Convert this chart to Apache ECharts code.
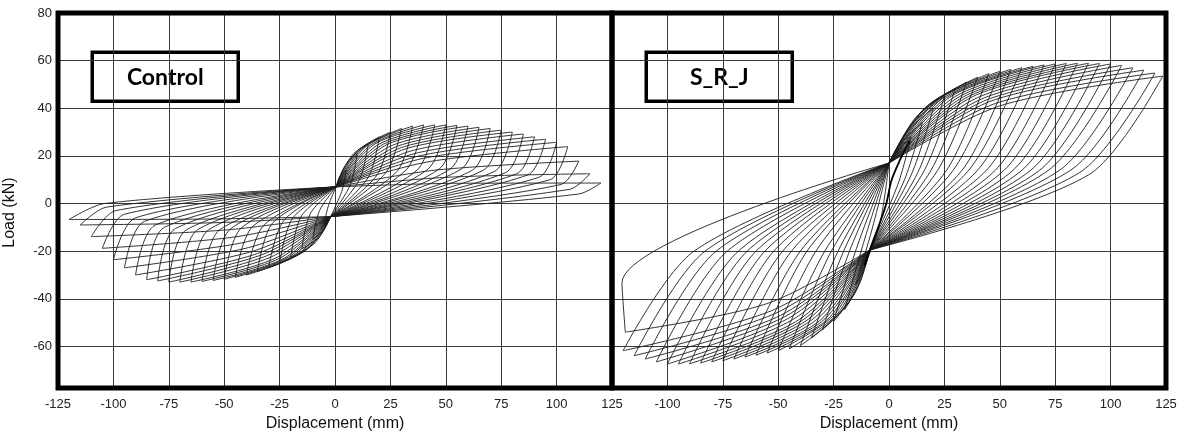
<!DOCTYPE html>
<html>
<head>
<meta charset="utf-8">
<script src="https://cdn.jsdelivr.net/npm/echarts@6/dist/echarts.min.js"></script>
<style>
html,body{margin:0;padding:0;background:#fff;}
#chart{width:1186px;height:437px;}
</style>
</head>
<body>
<div id="chart"></div>
<script>
// ---------------- axis ticks ----------------
const xTicks = [-125, -100, -75, -50, -25, 0, 25, 50, 75, 100, 125];
const yTicks = [-60, -40, -20, 0, 20, 40, 60, 80];

// ---------------- Control specimen ----------------
// positive half-cycles: peak, loading knee, unloading bend
const ctrlPosPeakD = [5,10,15,20,25,30,35,40,45,50,55,60,65,70,75,80,85,90,95,100,105,110,115,120];
const ctrlPosPeakF = [14,21,25,28,30,31.5,32.5,33,33,33,32.8,32.5,32,31.5,30.8,30,29.2,28,27,25.7,23.9,17.8,12.5,8.6];
const ctrlPosKneeD = [2,4,6,8,10,12,14,16,18,20,22,24,26,28,30,32,34,36,38,40,42,45,50,55];
const ctrlPosKneeF = [11,15,18,20.5,22,23,24,24.5,25,25,25,25,24.5,24,23.5,23,22,21,20,19,17.5,14,11,8.5];
const ctrlPosBendD = [3,7,11,15,19,23,28,32,37,42,47,52,57,62,67,72,77,82,87,92,97,102,106,110];
const ctrlPosBendF = [5,8,10,11,12,13,13.5,14,14,14.5,14.5,14.5,14.5,14,14,13.5,13,12.5,12,11,10,8,6,4];
// negative half-cycles
const ctrlNegPeakD = [-5,-10,-15,-20,-25,-30,-35,-40,-45,-50,-55,-60,-65,-70,-75,-80,-85,-90,-95,-100,-105,-110,-115,-120];
const ctrlNegPeakF = [-9,-15,-19,-22.5,-25,-27,-28.5,-30,-31,-31.8,-32.3,-32.7,-33,-33,-33,-32.5,-32,-30,-27,-23.6,-18.8,-13.9,-9,-6.7];
const ctrlNegKneeD = [-3,-5,-7,-9,-11,-13,-15,-17,-19,-21,-23,-25,-27,-29,-31,-33,-35,-37,-39,-42,-45,-48,-52,-56];
const ctrlNegKneeF = [-7.5,-11,-14,-16.5,-18,-19.5,-20.5,-21.5,-22,-22.5,-23,-23,-23,-22.5,-22,-21.5,-21,-20,-18.5,-16.5,-14,-11,-8,-6.5];
const ctrlNegBendD = [-3,-7,-11,-15,-19,-23,-28,-32,-37,-42,-47,-52,-57,-62,-67,-72,-77,-81,-86,-90,-95,-99,-103,-104];
const ctrlNegBendF = [-1,-3,-4,-5,-6,-7,-8,-9,-9.5,-10,-10.5,-11,-11,-11,-11,-10.5,-10,-9,-7.5,-6,-4.5,-3,-1.5,0];
// pinching points where the branches meet
const ctrlUpperKnot = [0.5, 7];
const ctrlLowerKnot = [-2, -5.5];

// ---------------- S_R_J specimen ----------------
const srjPosPeakD = [10,15,20,25,30,35,40,45,50,55,60,65,70,75,80,85,90,95,100,105,110,115,120,123.5];
const srjPosPeakF = [28,34,40,45,48.5,51,53,54.5,55.5,56.3,57,57.6,58.2,58.6,58.8,58.9,58.9,58.8,58.6,58,57,56,54.8,53.5];
const srjPosKneeD = [4,6,8,10,12,14,16,18,20,22,24,26,28,30,32,34,36,38,40,42,44,46,48,50];
const srjPosKneeF = [22,26,30,33,36,38,40,41.5,42.5,43.5,44,44.5,45,45,45,45,45,45,44.5,44,43.5,43,42,41];
const srjPosBendD = [4,7,10,13,16,19,22,26,29,33,36,40,44,48,52,56,60,64,68,72,77,82,86,90];
const srjPosBendF = [8,10,12,13,14,14,14,14,14,14,14,14,14,14,14,14,14,14,14,14,14,14,13,12];
const srjNegPeakD = [-10,-15,-20,-25,-30,-35,-40,-45,-50,-55,-60,-65,-70,-75,-80,-85,-90,-95,-100,-105,-110,-115,-120,-119];
const srjNegPeakF = [-24,-34,-44.5,-49.5,-53,-56.5,-59.7,-61,-61.8,-62.8,-63.7,-64.5,-65.3,-66,-66.5,-67,-67.3,-67.4,-67.4,-66.5,-65.3,-63.9,-61.8,-54];
const srjNegKneeD = [-9.5,-11,-13,-15,-17,-19,-21,-23,-25,-27,-29,-31,-33,-35,-37,-39,-41,-43,-45,-47,-49,-51,-53,-55];
const srjNegKneeF = [-22,-27,-33,-37,-40,-42.5,-44.5,-46,-47,-48,-48.5,-49,-49,-49,-49,-49,-49,-48.5,-48,-47.5,-47,-46,-45,-42];
const srjNegBendD = [-4,-8,-11,-14,-17,-20,-23,-26,-29,-33,-37,-40,-44,-48,-52,-56,-60,-64,-68,-73,-78,-83,-88,-120.5];
const srjNegBendF = [-8,-12,-15,-17,-18,-19,-20,-20,-20,-20,-20,-20,-20,-20,-20,-20,-20,-20,-20,-20,-20,-20,-20,-33.3];
const srjUpperKnot = [0, 17];
const srjLowerKnot = [-8.7, -19.5];
// dark central S-shaped path of the small elastic cycles
const srjBackboneD = [-11, -8.7, -4.2, -1.2, 1.1, 4.8, 9.3];
const srjBackboneF = [-26, -19.5, -8.3, 0, 9.7, 18, 26.4];

// ---------------- build line data (branches separated by gaps) ----------------
const GAP = [null, null];
function buildLoops(s) {
  const out = [];
  for (let i = 0; i < s.posPeakD.length; i++) {
    const pPeak = [s.posPeakD[i], s.posPeakF[i]];
    const nPeak = [s.negPeakD[i], s.negPeakF[i]];
    out.push(s.up, [s.posKneeD[i], s.posKneeF[i]], pPeak, GAP);
    out.push(pPeak, [s.posBendD[i], s.posBendF[i]], s.low, GAP);
    out.push(s.low, [s.negKneeD[i], s.negKneeF[i]], nPeak, GAP);
    out.push(nPeak, [s.negBendD[i], s.negBendF[i]], s.up, GAP);
  }
  return out;
}
const ctrlData = buildLoops({
  posPeakD: ctrlPosPeakD, posPeakF: ctrlPosPeakF, posKneeD: ctrlPosKneeD, posKneeF: ctrlPosKneeF,
  posBendD: ctrlPosBendD, posBendF: ctrlPosBendF, negPeakD: ctrlNegPeakD, negPeakF: ctrlNegPeakF,
  negKneeD: ctrlNegKneeD, negKneeF: ctrlNegKneeF, negBendD: ctrlNegBendD, negBendF: ctrlNegBendF,
  up: ctrlUpperKnot, low: ctrlLowerKnot
});
const srjData = buildLoops({
  posPeakD: srjPosPeakD, posPeakF: srjPosPeakF, posKneeD: srjPosKneeD, posKneeF: srjPosKneeF,
  posBendD: srjPosBendD, posBendF: srjPosBendF, negPeakD: srjNegPeakD, negPeakF: srjNegPeakF,
  negKneeD: srjNegKneeD, negKneeF: srjNegKneeF, negBendD: srjNegBendD, negBendF: srjNegBendF,
  up: srjUpperKnot, low: srjLowerKnot
});
const srjBackbone = srjBackboneD.map((d, i) => [d, srjBackboneF[i]]);

// ---------------- chart ----------------
const chart = echarts.init(document.getElementById('chart'), null, { renderer: 'canvas' });
const FONT = '"Liberation Sans", Arial, sans-serif';
const gridLine = { show: true, lineStyle: { color: '#3a3a3a', width: 1 } };

function xAxisFor(idx, showMin) {
  return {
    type: 'value', gridIndex: idx, min: -125, max: 125, interval: 25,
    name: 'Displacement (mm)', nameLocation: 'middle', nameGap: 27,
    nameTextStyle: { fontFamily: FONT, fontSize: 16, color: '#111' },
    axisLine: { show: false }, axisTick: { show: false },
    axisLabel: { fontFamily: FONT, fontSize: 13, color: '#222', margin: 10, showMinLabel: showMin },
    splitLine: gridLine
  };
}
function yAxisFor(idx, showLabels) {
  return {
    type: 'value', gridIndex: idx, min: -77.5, max: 80,
    name: showLabels ? 'Load (kN)' : '', nameLocation: 'middle', nameGap: 40,
    nameTextStyle: { fontFamily: FONT, fontSize: 16, color: '#111', padding: [0, 24, 0, 0] },
    axisLine: { show: false },
    axisTick: { show: false, customValues: yTicks },
    axisLabel: { show: showLabels, customValues: yTicks, fontFamily: FONT, fontSize: 13, color: '#222', margin: 6 },
    splitLine: gridLine
  };
}
const lineBase = {
  type: 'line', showSymbol: false, symbol: 'none', smooth: 0.3, connectNulls: false,
  animation: false, lineStyle: { color: '#1c1c1c', width: 0.9 }, z: 3
};

function labelBox(x, text) {
  return {
    type: 'group', left: x, top: 50.5, z: 100,
    children: [
      { type: 'rect', shape: { x: 0, y: 0, width: 146, height: 49 },
        style: { fill: '#fff', stroke: '#000', lineWidth: 3.5 } },
      { type: 'text', x: 73, y: 25.5,
        style: { text: text, fontFamily: 'Lato, "Open Sans", sans-serif', fontWeight: 'bold', fontSize: 23,
                 fill: '#000', align: 'center', verticalAlign: 'middle' } }
    ]
  };
}

chart.setOption({
  animation: false,
  backgroundColor: '#fff',
  grid: [
    { left: 58, top: 13, width: 554, height: 377.7, show: true, borderColor: '#000', borderWidth: 5, backgroundColor: 'transparent', z: 10 },
    { left: 612, top: 13, width: 554, height: 377.7, show: true, borderColor: '#000', borderWidth: 5, backgroundColor: 'transparent', z: 10 }
  ],
  xAxis: [xAxisFor(0, true), xAxisFor(1, false)],
  yAxis: [yAxisFor(0, true), yAxisFor(1, false)],
  series: [
    Object.assign({}, lineBase, { name: 'Control', xAxisIndex: 0, yAxisIndex: 0, data: ctrlData }),
    Object.assign({}, lineBase, { name: 'S_R_J', xAxisIndex: 1, yAxisIndex: 1, data: srjData }),
    Object.assign({}, lineBase, { name: 'S_R_J backbone', xAxisIndex: 1, yAxisIndex: 1, data: srjBackbone,
      lineStyle: { color: '#000', width: 1.8 } })
  ],
  graphic: [labelBox(90.5, 'Control'), labelBox(644.5, 'S_R_J')]
});
</script>
</body>
</html>
